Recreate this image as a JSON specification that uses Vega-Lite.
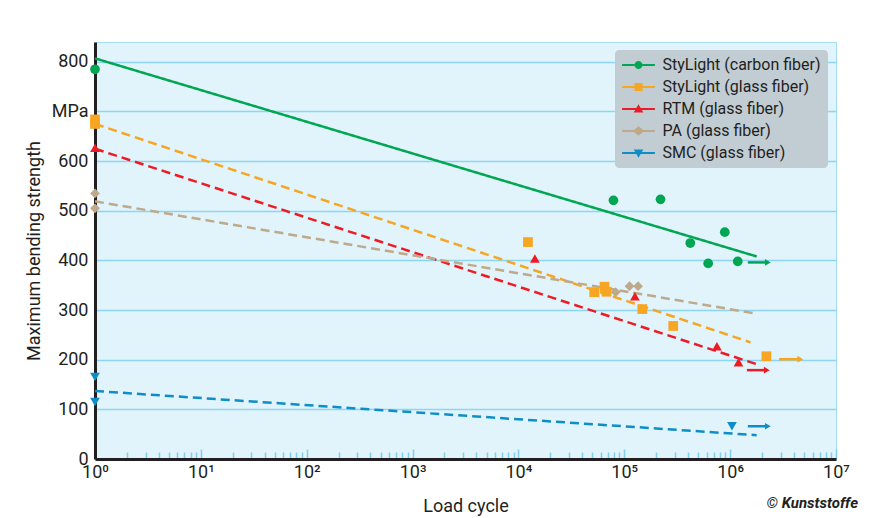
{
  "$schema": "https://vega.github.io/schema/vega-lite/v6.json",
  "width": 741,
  "height": 417,
  "autosize": {"type": "none"},
  "padding": {"left": 95, "top": 42, "right": 46, "bottom": 59},
  "background": "white",
  "config": {
    "font": "Roboto",
    "view": {"fill": "#e1f3fb", "stroke": "#a6dcf1", "strokeWidth": 1},
    "axis": {"labelFont": "Roboto", "titleFont": "Roboto", "labelColor": "#231f20", "titleColor": "#231f20", "titleFontWeight": "normal"}
  },
  "title": {
    "text": "© Kunststoffe",
    "orient": "bottom",
    "anchor": "end",
    "frame": "group",
    "fontSize": 15,
    "fontWeight": "bold",
    "fontStyle": "italic",
    "color": "#231f20",
    "dx": 22,
    "offset": -19
  },
  "datasets": {
    "points": [
      {"series": "StyLight (carbon fiber)", "cycles": 1, "strength": 785},
      {"series": "StyLight (carbon fiber)", "cycles": 79000, "strength": 521},
      {"series": "StyLight (carbon fiber)", "cycles": 220000, "strength": 523},
      {"series": "StyLight (carbon fiber)", "cycles": 420000, "strength": 435},
      {"series": "StyLight (carbon fiber)", "cycles": 890000, "strength": 457},
      {"series": "StyLight (carbon fiber)", "cycles": 620000, "strength": 394},
      {"series": "StyLight (carbon fiber)", "cycles": 1180000, "strength": 398},
      {"series": "StyLight (glass fiber)", "cycles": 1, "strength": 684},
      {"series": "StyLight (glass fiber)", "cycles": 1, "strength": 675},
      {"series": "StyLight (glass fiber)", "cycles": 12300, "strength": 437},
      {"series": "StyLight (glass fiber)", "cycles": 52000, "strength": 336},
      {"series": "StyLight (glass fiber)", "cycles": 65000, "strength": 347},
      {"series": "StyLight (glass fiber)", "cycles": 68000, "strength": 337},
      {"series": "StyLight (glass fiber)", "cycles": 148000, "strength": 302},
      {"series": "StyLight (glass fiber)", "cycles": 290000, "strength": 268},
      {"series": "StyLight (glass fiber)", "cycles": 2200000, "strength": 207},
      {"series": "RTM (glass fiber)", "cycles": 1, "strength": 627},
      {"series": "RTM (glass fiber)", "cycles": 14300, "strength": 404},
      {"series": "RTM (glass fiber)", "cycles": 126000, "strength": 328},
      {"series": "RTM (glass fiber)", "cycles": 750000, "strength": 227},
      {"series": "RTM (glass fiber)", "cycles": 1200000, "strength": 195},
      {"series": "PA (glass fiber)", "cycles": 1, "strength": 535},
      {"series": "PA (glass fiber)", "cycles": 1, "strength": 505},
      {"series": "PA (glass fiber)", "cycles": 83000, "strength": 336},
      {"series": "PA (glass fiber)", "cycles": 112000, "strength": 348},
      {"series": "PA (glass fiber)", "cycles": 135000, "strength": 348},
      {"series": "SMC (glass fiber)", "cycles": 1, "strength": 165},
      {"series": "SMC (glass fiber)", "cycles": 1, "strength": 115},
      {"series": "SMC (glass fiber)", "cycles": 1040000, "strength": 66}
    ],
    "fits": [
      {"series": "StyLight (carbon fiber)", "cycles": 1, "strength": 807},
      {"series": "StyLight (carbon fiber)", "cycles": 1780000, "strength": 408},
      {"series": "StyLight (glass fiber)", "cycles": 1, "strength": 675},
      {"series": "StyLight (glass fiber)", "cycles": 1560000, "strength": 235},
      {"series": "RTM (glass fiber)", "cycles": 1, "strength": 625},
      {"series": "RTM (glass fiber)", "cycles": 1780000, "strength": 191},
      {"series": "PA (glass fiber)", "cycles": 1, "strength": 519},
      {"series": "PA (glass fiber)", "cycles": 1640000, "strength": 294},
      {"series": "SMC (glass fiber)", "cycles": 1, "strength": 137},
      {"series": "SMC (glass fiber)", "cycles": 1780000, "strength": 48}
    ],
    "arrows": [
      {"series": "StyLight (carbon fiber)", "start": 1470000, "end": 2270000, "strength": 396},
      {"series": "StyLight (glass fiber)", "start": 2900000, "end": 4600000, "strength": 201},
      {"series": "RTM (glass fiber)", "start": 1440000, "end": 2220000, "strength": 179},
      {"series": "SMC (glass fiber)", "start": 1470000, "end": 2270000, "strength": 66}
    ]
  },
  "resolve": {"axis": {"x": "independent"}},
  "layer": [
    {
      "data": {"name": "fits"},
      "mark": {"type": "line", "strokeWidth": 2.5},
      "encoding": {
        "x": {"field": "cycles", "type": "quantitative",
          "scale": {"type": "log", "domain": [1, 10000000], "nice": false},
          "axis": {"orient": "bottom", "values": [2,3,4,5,6,7,8,9,20,30,40,50,60,70,80,90,200,300,400,500,600,700,800,900,2000,3000,4000,5000,6000,7000,8000,9000,20000,30000,40000,50000,60000,70000,80000,90000,200000,300000,400000,500000,600000,700000,800000,900000,2000000,3000000,4000000,5000000,6000000,7000000,8000000,9000000],
            "labels": false, "domain": false, "grid": false, "title": null, "tickSize": -7, "tickColor": "#7fcfee", "tickWidth": 1.5}},
        "y": {"field": "strength", "type": "quantitative", "scale": {"domain": [0, 840], "nice": false},
          "axis": {"values": [0, 100, 200, 300, 400, 500, 600, 700, 800],
            "labelExpr": "datum.value === 700 ? 'MPa' : datum.label",
            "labelFontSize": 18, "labelPadding": 7, "ticks": false,
            "grid": true, "gridColor": "#8dd5f1", "gridWidth": 1.5,
            "domainColor": "#231f20", "domainWidth": 3,
            "title": "Maximum bending strength", "titleFontSize": 18, "titlePadding": 8}},
        "stroke": {"field": "series", "type": "nominal", "legend": null,
          "scale": {"domain": ["SMC (glass fiber)", "PA (glass fiber)", "RTM (glass fiber)", "StyLight (glass fiber)", "StyLight (carbon fiber)"],
                    "range": ["#0e8ec6", "#bea98b", "#ed1c24", "#f6a623", "#00a651"]}},
        "strokeDash": {"field": "series", "type": "nominal", "legend": null,
          "scale": {"domain": ["SMC (glass fiber)", "PA (glass fiber)", "RTM (glass fiber)", "StyLight (glass fiber)", "StyLight (carbon fiber)"],
                    "range": [[9, 5], [9, 5], [9, 5], [9, 5], [1, 0]]}}
      }
    },
    {
      "data": {"name": "arrows"},
      "mark": {"type": "rule", "strokeWidth": 2.5},
      "encoding": {
        "x": {"field": "start", "type": "quantitative", "scale": {"type": "log", "domain": [1, 10000000], "nice": false}, "axis": null},
        "x2": {"field": "end"},
        "y": {"field": "strength", "type": "quantitative", "scale": {"domain": [0, 840], "nice": false}},
        "stroke": {"field": "series", "type": "nominal", "legend": null,
          "scale": {"domain": ["SMC (glass fiber)", "PA (glass fiber)", "RTM (glass fiber)", "StyLight (glass fiber)", "StyLight (carbon fiber)"],
                    "range": ["#0e8ec6", "#bea98b", "#ed1c24", "#f6a623", "#00a651"]}}
      }
    },
    {
      "data": {"name": "arrows"},
      "mark": {"type": "point", "shape": "triangle-right", "filled": true, "opacity": 1, "size": 45},
      "encoding": {
        "x": {"field": "end", "type": "quantitative", "scale": {"type": "log", "domain": [1, 10000000], "nice": false}, "axis": null},
        "y": {"field": "strength", "type": "quantitative", "scale": {"domain": [0, 840], "nice": false}},
        "fill": {"field": "series", "type": "nominal", "legend": null,
          "scale": {"domain": ["SMC (glass fiber)", "PA (glass fiber)", "RTM (glass fiber)", "StyLight (glass fiber)", "StyLight (carbon fiber)"],
                    "range": ["#0e8ec6", "#bea98b", "#ed1c24", "#f6a623", "#00a651"]}}
      }
    },
    {
      "data": {"name": "points"},
      "mark": {"type": "point", "filled": true, "opacity": 1, "size": 95},
      "encoding": {
        "x": {"field": "cycles", "type": "quantitative",
          "scale": {"type": "log", "domain": [1, 10000000], "nice": false},
          "axis": {"orient": "bottom", "values": [1, 10, 100, 1000, 10000, 100000, 1000000, 10000000],
            "labelExpr": "'10' + ['⁰','¹','²','³','⁴','⁵','⁶','⁷'][round(log(datum.value)/LN10)]",
            "labelFontSize": 18, "labelPadding": 14, "labelOverlap": false, "labelFlush": false,
            "grid": false, "tickSize": -10, "tickColor": "#7fcfee", "tickWidth": 1.5,
            "domainColor": "#231f20", "domainWidth": 3,
            "title": "Load cycle", "titleFontSize": 18, "titlePadding": 16}},
        "y": {"field": "strength", "type": "quantitative", "scale": {"domain": [0, 840], "nice": false}},
        "color": {"field": "series", "type": "nominal",
          "scale": {"domain": ["StyLight (carbon fiber)", "StyLight (glass fiber)", "RTM (glass fiber)", "PA (glass fiber)", "SMC (glass fiber)"],
                    "range": ["#00a651", "#f6a623", "#ed1c24", "#bea98b", "#0e8ec6"]},
          "legend": {
            "title": null, "orient": "top-right", "offset": 8,
            "fillColor": "#c2ccd3", "cornerRadius": 4, "padding": 7,
            "symbolSize": 256, "symbolOffset": 8.5, "symbolStrokeWidth": 0,
            "labelOffset": 16, "labelFontSize": 16, "labelFont": "Roboto", "labelColor": "#231f20", "rowPadding": 6,
            "symbolType": {"expr": "datum.value === 'StyLight (carbon fiber)' ? 'M-2.05,-0.13H-0.5V0.13H-2.05Z M0.5,-0.13H2.05V0.13H0.5Z M0.5,0A0.5,0.5,0,1,1,-0.5,0A0.5,0.5,0,1,1,0.5,0Z' : datum.value === 'StyLight (glass fiber)' ? 'M-2.05,-0.13H2.05V0.13H-2.05Z M-0.5,-0.5H0.5V0.5H-0.5Z' : datum.value === 'RTM (glass fiber)' ? 'M-2.05,-0.13H2.05V0.13H-2.05Z M0,-0.6L0.6,0.45H-0.6Z' : datum.value === 'PA (glass fiber)' ? 'M-2.05,-0.13H2.05V0.13H-2.05Z M0,-0.6L0.75,0L0,0.6L-0.75,0Z' : 'M-2.05,-0.13H2.05V0.13H-2.05Z M0,0.6L-0.6,-0.45H0.6Z'"}
          }},
        "shape": {"field": "series", "type": "nominal", "legend": null,
          "scale": {"domain": ["SMC (glass fiber)", "PA (glass fiber)", "RTM (glass fiber)", "StyLight (glass fiber)", "StyLight (carbon fiber)"],
                    "range": ["triangle-down", "diamond", "triangle-up", "square", "circle"]}}
      }
    }
  ]
}
